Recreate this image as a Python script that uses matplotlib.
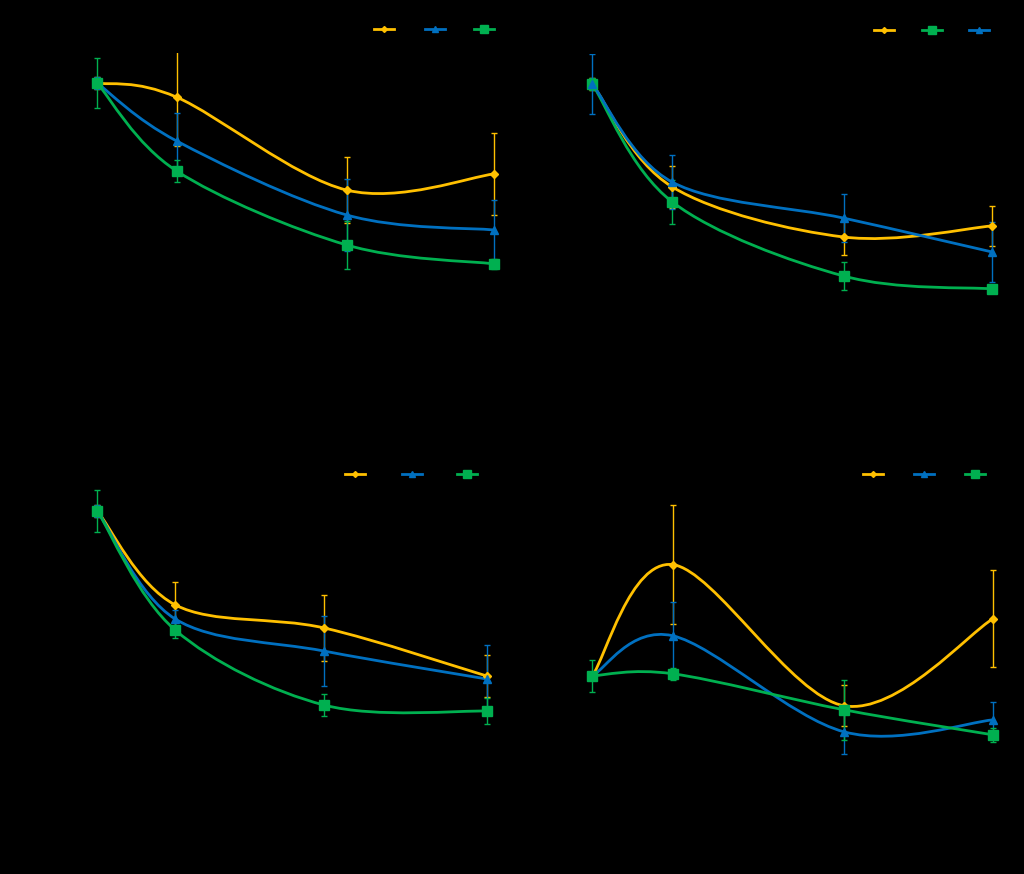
import numpy as np
import matplotlib
matplotlib.use("Agg")
import matplotlib.pyplot as plt
from matplotlib.path import Path
from matplotlib.patches import PathPatch
from matplotlib.lines import Line2D


# ==========================
# Data
# ==========================
TIME_A = [0, 7, 22, 35]
TIME_B = [0, 7, 20.4, 35]

# panel (a)
A_YELLOW = [100, 95.3, 64.3, 69.7]
A_BLUE = [100, 80.7, 56.0, 51.0]
A_GREEN = [100, 70.7, 46.0, 39.7]
A_YELLOW_ERR = [2, 16.3, 11, 13.7]
A_BLUE_ERR = [2, 9.3, 12, 10]
A_GREEN_ERR = [8.3, 3.7, 8, 1.7]

# panel (b)
B_YELLOW = [100, 65.7, 49.0, 52.7]
B_GREEN = [100, 60.7, 36.0, 31.7]
B_BLUE = [100, 67.3, 55.3, 44.0]
B_YELLOW_ERR = [2, 7, 6, 6.7]
B_GREEN_ERR = [2, 7.3, 4.7, 1]
B_BLUE_ERR = [10, 9, 8, 10]

# panel (c)
C_YELLOW = [100, 68.7, 61.0, 45.0]
C_BLUE = [100, 64.0, 53.3, 44.0]
C_GREEN = [100, 60.3, 35.3, 33.3]
C_YELLOW_ERR = [2, 7.7, 11, 7]
C_BLUE_ERR = [2, 3, 11.7, 11.3]
C_GREEN_ERR = [7, 2.7, 3.7, 4.3]

# panel (d)
D_YELLOW = [100, 182.2, 77.8, 142.2]
D_BLUE = [100, 129.6, 58.5, 67.4]
D_GREEN = [100, 101.5, 74.8, 56.3]
D_YELLOW_ERR = [3, 44, 15, 36]
D_BLUE_ERR = [3, 25, 16, 13]
D_GREEN_ERR = [12, 4.4, 22, 5]

LABELS = ["CK", "T1", "T2"]

YELLOW = "#FFC000"
BLUE = "#0070C0"
GREEN = "#00B050"
BG = "black"
INK = "black"

STYLE = {
    "yellow": dict(color=YELLOW, marker="D", ms=4),
    "blue": dict(color=BLUE, marker="^", ms=6),
    "green": dict(color=GREEN, marker="s", ms=7),
}


# ==========================
# Smooth line (Excel-like bezier)
# ==========================
def smooth_path(x, y):
    pts = np.column_stack([x, y]).astype(float)
    n = len(pts)
    verts = [pts[0]]
    codes = [Path.MOVETO]
    for i in range(n - 1):
        p_prev = pts[i - 1] if i > 0 else pts[i]
        p_next2 = pts[i + 2] if i + 2 < n else pts[i + 1]
        c1 = pts[i] + (pts[i + 1] - p_prev) / 6.0
        c2 = pts[i + 1] - (p_next2 - pts[i]) / 6.0
        verts += [c1, c2, pts[i + 1]]
        codes += [Path.CURVE4] * 3
    return Path(verts, codes)


def draw_series(ax, x, y, err, key):
    st = STYLE[key]
    ax.errorbar(x, y, yerr=err, fmt="none", ecolor=st["color"],
                elinewidth=1, capsize=2, capthick=1, zorder=2)
    ax.add_patch(PathPatch(smooth_path(x, y), fill=False,
                           edgecolor=st["color"], lw=2, zorder=3))
    ax.plot(x, y, ls="none", marker=st["marker"], ms=st["ms"],
            color=st["color"], zorder=4)


def make_axes(fig, box, xlim, ylim):
    left, top, right, bottom = box
    w, h = 1024.0, 874.0
    ax = fig.add_axes([left / w, 1 - bottom / h, (right - left) / w, (bottom - top) / h])
    ax.set_facecolor(BG)
    ax.set_xlim(*xlim)
    ax.set_ylim(*ylim)
    for sp in ax.spines.values():
        sp.set_color(INK)
    ax.spines["top"].set_visible(False)
    ax.spines["right"].set_visible(False)
    ax.tick_params(colors=INK, labelcolor=INK)
    ax.set_xlabel("Storage time (d)", color=INK)
    ax.set_ylabel("Relative content (%)", color=INK)
    return ax


def add_legend(ax, keys, anchor, spacing=0.9):
    handles = []
    for key in keys:
        st = STYLE[key]
        handles.append(Line2D([], [], color=st["color"], lw=2,
                              marker=st["marker"], ms=st["ms"] - 1))
    names = {"yellow": LABELS[0], "blue": LABELS[1], "green": LABELS[2]}
    leg = ax.legend(handles, [names[k] for k in keys], ncol=3, frameon=False,
                    loc="center right", bbox_to_anchor=anchor,
                    handlelength=1.6, columnspacing=spacing, handletextpad=0.4,
                    fontsize=9)
    for t in leg.get_texts():
        t.set_color(INK)


# ==========================
# Main
# ==========================
def main():
    fig = plt.figure(figsize=(10.24, 8.74), dpi=100, facecolor=BG)

    ax = make_axes(fig, (63, 53, 517, 383), (-3, 37), (0, 110))
    draw_series(ax, TIME_A, A_YELLOW, A_YELLOW_ERR, "yellow")
    draw_series(ax, TIME_A, A_BLUE, A_BLUE_ERR, "blue")
    draw_series(ax, TIME_A, A_GREEN, A_GREEN_ERR, "green")
    add_legend(ax, ["yellow", "blue", "green"], (1.02, 1.07), spacing=0.7)

    ax = make_axes(fig, (558, 54, 1015, 384), (-3, 37), (0, 110))
    draw_series(ax, TIME_A, B_YELLOW, B_YELLOW_ERR, "yellow")
    draw_series(ax, TIME_A, B_GREEN, B_GREEN_ERR, "green")
    draw_series(ax, TIME_A, B_BLUE, B_BLUE_ERR, "blue")
    add_legend(ax, ["yellow", "green", "blue"], (1.013, 1.07), spacing=0.5)

    ax = make_axes(fig, (64, 481, 509, 811), (-3, 37), (0, 110))
    draw_series(ax, TIME_B, C_YELLOW, C_YELLOW_ERR, "yellow")
    draw_series(ax, TIME_B, C_BLUE, C_BLUE_ERR, "blue")
    draw_series(ax, TIME_B, C_GREEN, C_GREEN_ERR, "green")
    add_legend(ax, ["yellow", "blue", "green"], (1.0, 1.02), spacing=1.2)

    ax = make_axes(fig, (558, 481, 1016, 811), (-3, 37), (0, 244))
    draw_series(ax, TIME_A, D_YELLOW, D_YELLOW_ERR, "yellow")
    draw_series(ax, TIME_A, D_BLUE, D_BLUE_ERR, "blue")
    draw_series(ax, TIME_A, D_GREEN, D_GREEN_ERR, "green")
    add_legend(ax, ["yellow", "blue", "green"], (1.002, 1.02), spacing=0.8)

    fig.savefig("out.png", dpi=100, facecolor=BG)
    plt.close(fig)


if __name__ == "__main__":
    main()
